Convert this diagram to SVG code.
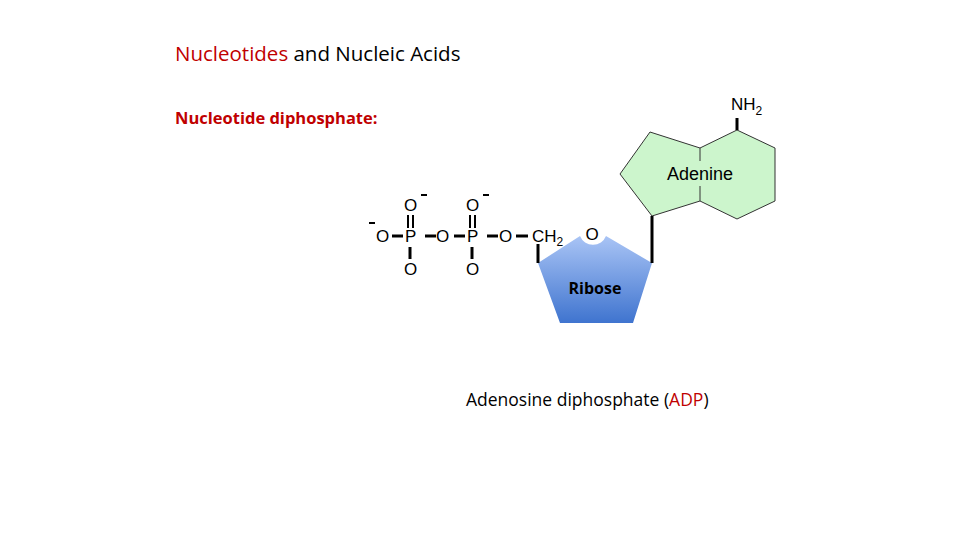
<svg xmlns="http://www.w3.org/2000/svg" width="960" height="540" viewBox="0 0 960 540">
<defs>
<linearGradient id="rg" x1="0" y1="0" x2="0" y2="1"><stop offset="0" stop-color="#a9c4f5"/><stop offset="1" stop-color="#3f74cf"/></linearGradient>
<style>
.t{font-family:"Liberation Sans",Arial,sans-serif;}
.c{font-family:"Open Sans","DejaVu Sans",sans-serif;}
.p text{font-family:"Liberation Sans",Arial,sans-serif;font-size:17px;fill:#000;}
.b{stroke:#000;stroke-width:3;fill:none;}
.e{stroke:#333;stroke-width:1;fill:none;}
</style>
</defs>
<rect width="960" height="540" fill="#fff"/>
<text x="175" y="61" class="c" font-size="20.5"><tspan fill="#c00000">Nucleotides</tspan> and Nucleic Acids</text>
<text x="175" y="124" class="c" font-size="16.5" font-weight="bold" fill="#c00000">Nucleotide diphosphate:</text>
<g id="adenine">
<path d="M650,132 L620,174 L652,216 L700,201 L737,219 L775,201 L775,148 L737,130 L700,148 Z" fill="#ccf5cc"/>
<path d="M700,148 L650,132 L620,174 L652,216 L700,201 L737,219 L775,201 L775,148 L737,130 L700,148" class="e"/>
<line x1="700" y1="148" x2="700" y2="161" class="e"/>
<line x1="700" y1="186" x2="700" y2="201" class="e"/>
<text x="700" y="180" class="t" font-size="18" text-anchor="middle">Adenine</text>
<line x1="737" y1="130" x2="737" y2="118" class="b"/>
<text x="731" y="110" class="t" font-size="17">NH<tspan font-size="12" dy="5">2</tspan></text>
</g>
<g id="ribose">
<path d="M538,263 L580,236 A14,14 0 0 0 606,236 L652,263 L633,323 L560,323 Z" fill="url(#rg)"/>
<text x="592" y="240" class="t" font-size="17" text-anchor="middle">O</text>
<text x="595" y="294" class="c" font-size="16" font-weight="bold" text-anchor="middle">Ribose</text>
</g>
<g id="phosphate" class="p">
<text x="376" y="242">O</text>
<text x="405" y="242">P</text>
<text x="404" y="211">O</text>
<text x="404" y="275">O</text>
<text x="436" y="242">O</text>
<text x="467" y="242">P</text>
<text x="466" y="211">O</text>
<text x="466" y="275">O</text>
<text x="499" y="242">O</text>
<text x="532" y="242">CH<tspan font-size="12" dy="4">2</tspan></text>
</g>
<g id="connectors" class="b">
<line x1="369" y1="223" x2="375" y2="223" stroke-width="2"/>
<line x1="421" y1="195" x2="427" y2="195" stroke-width="2"/>
<line x1="483" y1="195" x2="489" y2="195" stroke-width="2"/>
<line x1="392" y1="236" x2="403" y2="236"/>
<line x1="425" y1="236" x2="436" y2="236"/>
<line x1="454" y1="236" x2="465" y2="236"/>
<line x1="487" y1="236" x2="498" y2="236"/>
<line x1="516" y1="236" x2="528" y2="236"/>
<line x1="408" y1="215" x2="408" y2="228" stroke-width="2"/><line x1="413" y1="215" x2="413" y2="228" stroke-width="2"/>
<line x1="470" y1="215" x2="470" y2="228" stroke-width="2"/><line x1="475" y1="215" x2="475" y2="228" stroke-width="2"/>
<line x1="410" y1="247" x2="410" y2="259"/>
<line x1="472" y1="247" x2="472" y2="259"/>
<line x1="538" y1="244" x2="538" y2="263"/>
<line x1="652" y1="216" x2="652" y2="263"/>
</g>
<text x="466" y="406" class="c" font-size="17.5">Adenosine diphosphate (<tspan fill="#c00000">ADP</tspan>)</text>
</svg>
